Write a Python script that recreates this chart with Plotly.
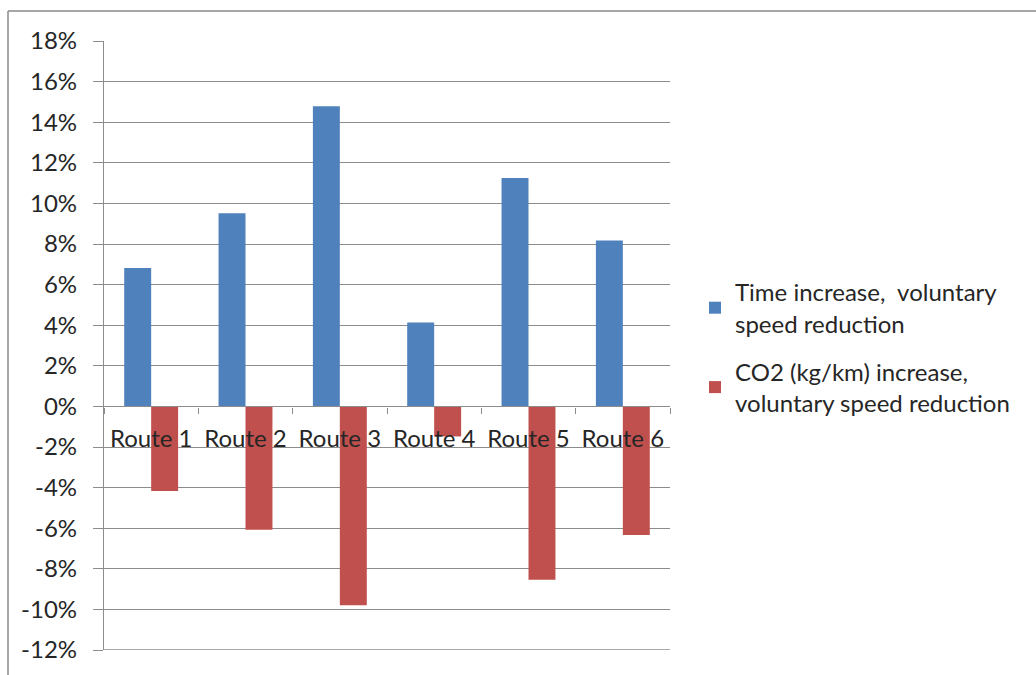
import plotly.graph_objects as go

# Chart data (percent)
routes = ["Route 1", "Route 2", "Route 3", "Route 4", "Route 5", "Route 6"]
time_increase = [6.82, 9.51, 14.79, 4.13, 11.25, 8.17]
co2_increase = [-4.17, -6.08, -9.79, -1.48, -8.54, -6.33]
series_names = [
    "Time increase,\u00a0 voluntary<br>speed reduction",
    "CO2 (kg/km) increase,<br>voluntary speed reduction",
]
y_ticks = list(range(-12, 20, 2))
y_tick_text = [f"{v}%" for v in y_ticks]

W, H = 1036, 675
ML, MR, MT, MB = 104, W - 670, 41, H - 650
PW, PH = W - ML - MR, H - MT - MB


def px_x(x):
    return (x - ML) / PW


def px_y(y):
    return (H - MB - y) / PH


FONT = "Lato"
FS = 24
TEXT = "#262626"
GRID = "#8c8c8c"

fig = go.Figure()
fig.add_trace(go.Bar(x=routes, y=time_increase, name=series_names[0],
                     legendgroup="time",
                     marker=dict(color="#4F81BD", line=dict(width=0))))
fig.add_trace(go.Bar(x=routes, y=co2_increase, name=series_names[1],
                     legendgroup="co2",
                     marker=dict(color="#C0504D", line=dict(width=0))))

fig.update_layout(
    width=W, height=H,
    margin=dict(l=ML, r=MR, t=MT, b=MB, autoexpand=False),
    paper_bgcolor="white", plot_bgcolor="white",
    barmode="group", bargap=1.5 / 3.5, bargroupgap=0,
    font=dict(family=FONT, size=FS, color=TEXT),
    showlegend=True,
    legend=dict(x=px_x(695), y=px_y(270), xanchor="left", yanchor="top",
                font=dict(family=FONT, size=FS, color=TEXT),
                traceorder="grouped", tracegroupgap=14,
                bgcolor="rgba(0,0,0,0)"),
    xaxis=dict(
        anchor="free", position=12 / 30,
        showline=True, linecolor=GRID, linewidth=1.3,
        ticks="outside", tickson="boundaries", ticklen=6, tickcolor=GRID,
        tickwidth=1.3, ticklabelstandoff=11,
        tickfont=dict(family=FONT, size=FS, color=TEXT),
        showgrid=False, zeroline=False,
    ),
    yaxis=dict(
        range=[-12, 18], tickvals=y_ticks, ticktext=y_tick_text,
        showline=True, linecolor=GRID, linewidth=1.3,
        ticks="outside", ticklen=10, tickcolor=GRID, tickwidth=1.3,
        ticklabelstandoff=11,
        showgrid=True, gridcolor=GRID, gridwidth=1.3, zeroline=False,
        tickfont=dict(family=FONT, size=FS, color=TEXT),
    ),
    shapes=[
        # bottom gridline at the lower end of the value axis
        dict(type="line", xref="paper", yref="y", layer="below",
             x0=0, x1=1, y0=y_ticks[0], y1=y_ticks[0],
             line=dict(color=GRID, width=1.3)),
        # chart-area border (top and left edges)
        dict(type="line", xref="paper", yref="paper",
             x0=px_x(8), x1=px_x(W + 5), y0=px_y(11), y1=px_y(11),
             line=dict(color="#8a8a8a", width=1.5)),
        dict(type="line", xref="paper", yref="paper",
             x0=px_x(8), x1=px_x(8), y0=px_y(11), y1=px_y(H + 5),
             line=dict(color="#8a8a8a", width=1.5)),
    ],
)

fig.write_html("out.html")
